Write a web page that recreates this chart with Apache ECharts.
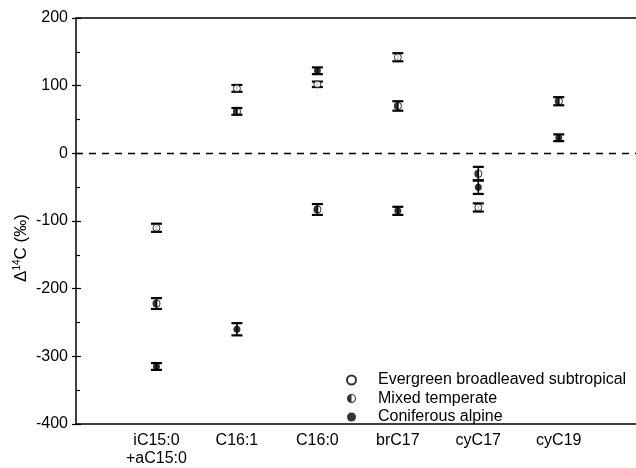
<!DOCTYPE html>
<html><head><meta charset="utf-8">
<script src="https://cdn.jsdelivr.net/npm/echarts@6/dist/echarts.min.js"></script>
<style>html,body{margin:0;padding:0;background:#fff}#c{width:636px;height:468px}</style>
</head><body><div id="c"></div>
<script>
const categories = ["iC15:0\n+aC15:0", "C16:1", "C16:0", "brC17", "cyC17", "cyC19"];
const seriesNames = ["Evergreen broadleaved subtropical", "Mixed temperate", "Coniferous alpine"];
const evergreenVals = [-110, 96, 102, 142, -80, null];
const evergreenErr  = [6, 5, 4, 6, 6, null];
const mixedVals = [-222, 62, -83, 70, -30, 77];
const mixedErr  = [8, 5, 8, 7, 10, 6];
const coniferVals = [-315, -260, 122, -85, -50, 23];
const coniferErr  = [5, 9, 5, 6, 10, 5];
const yTicks = [-400, -300, -200, -100, 0, 100, 200];

const halfPath = 'path://M0,-10A10,10 0 1,1 0,10A10,10 0 1,1 0,-10Z M0,-7.6A7.6,7.6 0 1,0 0,7.6A7.6,7.6 0 1,0 0,-7.6Z M0,-7.6A7.6,7.6 0 0,0 0,7.6Z';

function pts(vals){ return vals.map((v,i)=> v==null? null : [i+1, v]).filter(d=>d); }
function errPts(vals, errs){ return vals.map((v,i)=> v==null? null : [i+1, v-errs[i], v+errs[i]]).filter(d=>d); }

function errRender(params, api){
  const x = api.value(0);
  const lo = api.coord([x, api.value(1)]);
  const hi = api.coord([x, api.value(2)]);
  const hw = 5.5;
  return {type:'group', children:[
    {type:'line', shape:{x1:lo[0], y1:lo[1], x2:hi[0], y2:hi[1]}, style:{stroke:'#000', lineWidth:1.6}},
    {type:'line', shape:{x1:lo[0]-hw, y1:lo[1], x2:lo[0]+hw, y2:lo[1]}, style:{stroke:'#000', lineWidth:2.2}},
    {type:'line', shape:{x1:hi[0]-hw, y1:hi[1], x2:hi[0]+hw, y2:hi[1]}, style:{stroke:'#000', lineWidth:2.2}}
  ]};
}

const chart = echarts.init(document.getElementById('c'), null, {renderer:'canvas'});
const font = 'Liberation Sans, Arial, sans-serif';
const fs = 16;
chart.setOption({
  animation:false,
  backgroundColor:'#fff',
  textStyle:{fontFamily:font},
  grid:{left:76, top:18, right:0, height:410, show:false},
  xAxis:[{type:'value', min:0, max:6.96, interval:1,
    axisLine:{show:true, onZero:false, lineStyle:{color:'#000', width:1.5}},
    axisTick:{show:false}, splitLine:{show:false},
    axisLabel:{color:'#000', fontSize:fs, fontFamily:font, margin:8, lineHeight:18, showMinLabel:true, showMaxLabel:false,
      formatter:v=> (v>=1 && v<=categories.length && Number.isInteger(v)) ? categories[v-1] : ''}
  },{type:'value', min:0, max:6.96, position:'top',
    axisLine:{show:true, onZero:false, lineStyle:{color:'#000', width:1.5}},
    axisTick:{show:false}, axisLabel:{show:false}, splitLine:{show:false}}],
  yAxis:[{type:'value', min:-400, max:200, interval:100,
    axisLine:{show:true, lineStyle:{color:'#000', width:1.5}},
    axisTick:{show:true, inside:true, length:5, lineStyle:{color:'#000', width:1.2}},
    minorTick:{show:true, splitNumber:2, length:4, lineStyle:{color:'#000', width:1.2}},
    splitLine:{show:false},
    axisLabel:{color:'#000', fontSize:fs, fontFamily:font, margin:8, formatter:v=> yTicks.includes(v)? String(v):''}
  },{type:'value', min:-400, max:200, interval:100, position:'left',
    axisLine:{show:false}, axisLabel:{show:false}, splitLine:{show:false},
    axisTick:{show:true, inside:false, length:4, lineStyle:{color:'#000', width:1.2}}
  }],
  legend:{orient:'vertical', left:341, top:366, itemGap:0.5, itemWidth:9, itemHeight:9,
    data:seriesNames,
    textStyle:{color:'#000', fontSize:fs, fontFamily:font, lineHeight:18, padding:[0,0,0,17]}
  },
  graphic:[{type:'text', x:21, y:248, rotation:Math.PI/2,
    style:{text:'Δ{s|14}C (‰)', fontSize:17, fontFamily:font, fill:'#000', align:'center', verticalAlign:'middle',
      rich:{s:{fontSize:10, fontFamily:font, verticalAlign:'top', padding:[0,0,7,0]}}}}],
  series:[
    {type:'custom', name:'err1', renderItem:errRender, data:errPts(evergreenVals, evergreenErr), encode:{x:0,y:[1,2]}, z:3},
    {type:'custom', name:'err2', renderItem:errRender, data:errPts(mixedVals, mixedErr), encode:{x:0,y:[1,2]}, z:3},
    {type:'custom', name:'err3', renderItem:errRender, data:errPts(coniferVals, coniferErr), encode:{x:0,y:[1,2]}, z:3},
    {type:'scatter', name:seriesNames[0], data:pts(evergreenVals), symbol:'circle', symbolSize:7,
      itemStyle:{color:'#fff', borderColor:'#000', borderWidth:1}, z:5,
      markLine:{silent:true, symbol:'none', label:{show:false}, lineStyle:{color:'#000', type:[7,6], width:1.3}, data:[{yAxis:0}]}},
    {type:'scatter', name:seriesNames[1], data:pts(mixedVals), symbol:halfPath, symbolSize:8,
      itemStyle:{color:'#000'}, z:5},
    {type:'scatter', name:seriesNames[2], data:pts(coniferVals), symbol:'circle', symbolSize:7,
      itemStyle:{color:'#000'}, z:5}
  ]
});
</script></body></html>
